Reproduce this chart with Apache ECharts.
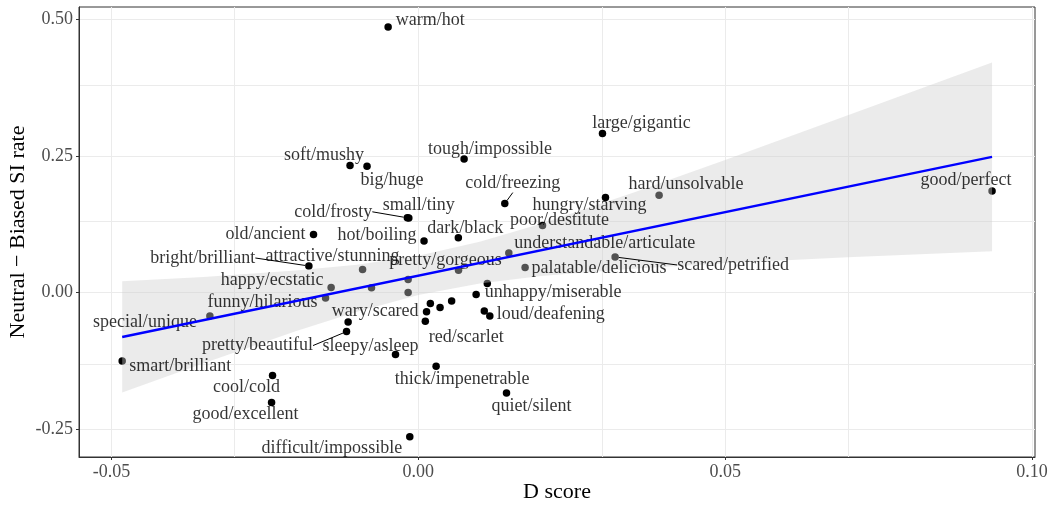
<!DOCTYPE html>
<html>
<head>
<meta charset="utf-8">
<script src="https://cdn.jsdelivr.net/npm/echarts@6/dist/echarts.min.js"></script>
<style>
html,body{margin:0;padding:0;background:#fff;}
#chart{width:1050px;height:506px;}
</style>
</head>
<body>
<div id="chart"></div>
<script>
// ---- data ----
const words = [
  'warm/hot','large/gigantic','tough/impossible','soft/mushy','big/huge','cold/frosty','small/tiny',
  'old/ancient','hot/boiling','dark/black','cold/freezing','hungry/starving','hard/unsolvable',
  'poor/destitute','understandable/articulate','palatable/delicious','scared/petrified','pretty/gorgeous',
  'unhappy/miserable','loud/deafening','red/scarlet','wary/scared','sleepy/asleep','pretty/beautiful',
  'thick/impenetrable','quiet/silent','difficult/impossible','good/excellent','cool/cold','smart/brilliant',
  'special/unique','funny/hilarious','happy/ecstatic','bright/brilliant','attractive/stunning','good/perfect',
  '','','','','','','','',''
];
const dScore = [
  -0.00492, 0.03001, 0.00746, -0.01113, -0.00836, -0.00179, -0.00155,
  -0.01708, 0.00093, 0.00652, 0.01409, 0.03050, 0.03924,
  0.02024, 0.01475, 0.01740, 0.03207, 0.00655,
  0.00942, 0.01165, 0.00114, -0.01144, -0.00372, -0.01170,
  0.00290, 0.01437, -0.00139, -0.02392, -0.02376, -0.04826,
  -0.03397, -0.01512, -0.01421, -0.01784, -0.00909, 0.09350,
  -0.00763, -0.00166, -0.00166, 0.01124, 0.01075, 0.00196, 0.00134, 0.00354, 0.00543
];
const siDiff = [
  0.4857, 0.2909, 0.2444, 0.2324, 0.2311, 0.1369, 0.1364,
  0.1062, 0.0943, 0.1004, 0.1629, 0.1739, 0.1781,
  0.1227, 0.0726, 0.0459, 0.0653, 0.0410,
  -0.0035, -0.0428, -0.0523, -0.0536, -0.1132, -0.0711,
  -0.1346, -0.1834, -0.2634, -0.2009, -0.1516, -0.1249,
  -0.0426, -0.0097, 0.0093, 0.0488, 0.0422, 0.1859,
  0.0090, 0.0239, 0.0002, 0.0166, -0.0336, -0.0199, -0.0349, -0.0272, -0.0152
];
// regression line & confidence band
const fitX = [-0.04826, 0.0935];
const fitY = [-0.0810, 0.2483];
const bandX    = [-0.04826, -0.035, -0.02, -0.01, 0.0, 0.01, 0.02, 0.035, 0.05, 0.07, 0.0935];
const bandLow  = [-0.1827, -0.1291, -0.0707, -0.0348, -0.0044, 0.0169, 0.0305, 0.0436, 0.0536, 0.0650, 0.0759];
const bandHigh = [0.0207, 0.0289, 0.0405, 0.0512, 0.0676, 0.0929, 0.1259, 0.1828, 0.2428, 0.3246, 0.4207];
// ticks
const xTicks = [-0.05, 0.00, 0.05, 0.10];
const xTickLabels = ['-0.05', '0.00', '0.05', '0.10'];
const yTicks = [-0.25, 0.00, 0.25, 0.50];
const yTickLabels = ['-0.25', '0.00', '0.25', '0.50'];
const xGridVals = [-0.05, -0.025, 0, 0.025, 0.05, 0.075, 0.10];
const yGridVals = [-0.25, -0.125, 0, 0.125, 0.25, 0.375, 0.5];

// ---- layout (label pixel offsets, leader lines) ----
const labelOffset = {
  'warm/hot':[42,-7], 'large/gigantic':[39,-10], 'tough/impossible':[26,-10], 'soft/mushy':[-26,-10],
  'big/huge':[25,14], 'cold/frosty':[-74,-6], 'small/tiny':[10,-13], 'old/ancient':[-48,0],
  'hot/boiling':[-47,-6], 'dark/black':[7,-10], 'cold/freezing':[8,-20], 'hungry/starving':[-16,8],
  'hard/unsolvable':[27,-11], 'poor/destitute':[17,-5], 'understandable/articulate':[96,-10],
  'palatable/delicious':[74,1], 'scared/petrified':[118,8], 'pretty/gorgeous':[-13,-10],
  'unhappy/miserable':[77,-2], 'loud/deafening':[61,-2], 'red/scarlet':[41,16], 'wary/scared':[27,-11],
  'sleepy/asleep':[-25,-8], 'pretty/beautiful':[-89,14], 'thick/impenetrable':[26,13],
  'quiet/silent':[25,13], 'difficult/impossible':[-78,12], 'good/excellent':[-26,12],
  'cool/cold':[-26,12], 'smart/brilliant':[58,5], 'special/unique':[-65,6], 'funny/hilarious':[-63,4],
  'happy/ecstatic':[-59,-7], 'bright/brilliant':[-106,-8], 'attractive/stunning':[-30,-13],
  'good/perfect':[-26,-11]
};
const leaderWords = ['cold/frosty','bright/brilliant','pretty/beautiful','cold/freezing','scared/petrified'];

const FONT = '"Liberation Serif", "DejaVu Serif", serif';

const pts = dScore.map((x, i) => [x, siDiff[i]]);
const labelData = dScore.map((x, i) => {
  const w = words[i];
  return {
    value: [x, siDiff[i], w],
    label: { show: w !== '' },
    labelLine: { show: leaderWords.indexOf(w) >= 0 }
  };
});

const chart = echarts.init(document.getElementById('chart'), null, { renderer: 'canvas' });

const option = {
  animation: false,
  backgroundColor: '#ffffff',
  grid: { left: 79, right: 15, top: 7, bottom: 49, containLabel: false, outerBoundsMode: 'none',
          show: true, borderColor: '#333333', borderWidth: 1, backgroundColor: 'transparent' },
  xAxis: {
    type: 'value', min: -0.0553, max: 0.1005,
    name: 'D score', nameLocation: 'middle', nameGap: 24, nameMoveOverlap: false,
    nameTextStyle: { fontFamily: FONT, fontSize: 22, color: '#000' },
    axisLine: { show: true, onZero: false, lineStyle: { color: '#333333', width: 1 } },
    axisTick: { show: true, length: 3, lineStyle: { color: '#333333' }, customValues: xTicks },
    axisLabel: { margin: 6, fontFamily: FONT, fontSize: 18, color: '#4d4d4d', customValues: xTicks,
      formatter: v => { const i = xTicks.findIndex(t => Math.abs(t - v) < 1e-9); return i >= 0 ? xTickLabels[i] : ''; } },
    splitLine: { show: false }
  },
  yAxis: {
    type: 'value', min: -0.3004, max: 0.5223,
    name: 'Neutral \u2212 Biased SI rate', nameLocation: 'middle', nameGap: 50, nameMoveOverlap: false,
    nameTextStyle: { fontFamily: FONT, fontSize: 22, color: '#000' },
    axisLine: { show: true, onZero: false, lineStyle: { color: '#333333', width: 1 } },
    axisTick: { show: true, length: 3, lineStyle: { color: '#333333' }, customValues: yTicks },
    axisLabel: { margin: 6, fontFamily: FONT, fontSize: 18, color: '#4d4d4d', customValues: yTicks,
      formatter: v => { const i = yTicks.findIndex(t => Math.abs(t - v) < 1e-9); return i >= 0 ? yTickLabels[i] : ''; } },
    splitLine: { show: false }
  },
  series: [
    {
      // grid lines
      type: 'line', data: [], z: 0, silent: true,
      markLine: {
        z: 0, silent: true, symbol: ['none', 'none'], label: { show: false },
        lineStyle: { color: '#ebebeb', width: 1, type: 'solid' },
        data: xGridVals.map(v => ({ xAxis: v })).concat(yGridVals.map(v => ({ yAxis: v })))
      }
    },
    {
      type: 'scatter', z: 2, data: pts, symbol: 'circle', symbolSize: 7.5,
      itemStyle: { color: '#000000', opacity: 1 }, silent: true
    },
    {
      type: 'custom', z: 3, silent: true,
      data: [[bandX[0], bandLow[0]]],
      renderItem: function (params, api) {
        const points = [];
        for (let i = 0; i < bandX.length; i++) points.push(api.coord([bandX[i], bandHigh[i]]));
        for (let i = bandX.length - 1; i >= 0; i--) points.push(api.coord([bandX[i], bandLow[i]]));
        return { type: 'polygon', shape: { points: points }, style: { fill: 'rgba(204,204,204,0.4)' } };
      }
    },
    {
      type: 'scatter', z: 4, data: labelData, symbol: 'circle', symbolSize: 7.5, silent: true,
      itemStyle: { color: 'rgba(0,0,0,0)' },
      label: {
        show: true, position: 'inside', formatter: p => p.value[2],
        fontFamily: FONT, fontSize: 18, color: '#000', align: 'center', verticalAlign: 'middle'
      },
      labelLine: { show: false, lineStyle: { color: '#000', width: 1 } },
      labelLayout: function (params) {
        const w = words[params.dataIndex];
        const o = labelOffset[w] || [0, 0];
        return { dx: o[0], dy: o[1], hideOverlap: false, moveOverlap: false };
      }
    },
    {
      type: 'line', z: 5, silent: true, symbol: 'none',
      data: fitX.map((x, i) => [x, fitY[i]]),
      lineStyle: { color: '#0000ff', width: 2.5 }
    }
  ]
};
chart.setOption(option);
</script>
</body>
</html>
